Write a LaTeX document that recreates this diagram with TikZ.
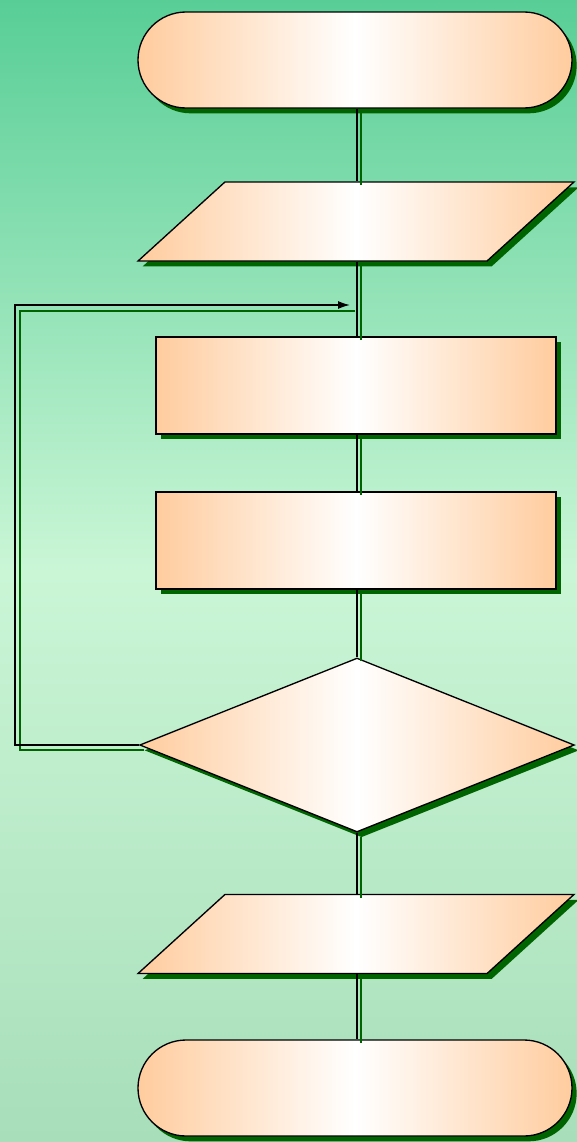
\documentclass[tikz,border=0pt]{standalone}
\usepackage{tikz}
\usetikzlibrary{arrows.meta,positioning,shapes.geometric,shadows,calc}

\definecolor{peach}{RGB}{255,204,158}
\definecolor{shgreen}{RGB}{0,100,0}
\definecolor{bgtop}{RGB}{88,206,150}
\definecolor{bgmid}{RGB}{202,246,214}
\definecolor{bgbot}{RGB}{168,222,186}

\tikzset{
  boxshade/.style={draw=black, line width=1pt, left color=peach, right color=peach, middle color=white,
    drop shadow={shadow xshift=3.5pt, shadow yshift=-4pt, fill=shgreen, opacity=1}},
  terminal/.style={boxshade, rectangle, rounded corners=36pt, minimum width=325.5pt, minimum height=72pt, inner sep=0pt},
  io/.style={boxshade, rectangle, xslant=1.1, minimum width=261.75pt, minimum height=59.25pt, inner sep=0pt},
  process/.style={boxshade, rectangle, minimum width=300pt, minimum height=72.75pt, inner sep=0pt},
  decision/.style={boxshade, diamond, minimum width=326pt, minimum height=130.5pt, inner sep=0pt},
  link/.style={line width=1.1pt, preaction={draw=shgreen, line width=1.8pt, transform canvas={shift={(3pt,-3pt)}}}}
}

\begin{document}
\begin{tikzpicture}[x=0.75pt,y=-0.75pt,>={Latex[length=9pt,width=6pt]}]
  \fill[top color=bgtop, bottom color=bgbot, middle color=bgmid] (0,0) rectangle (577,1142);
  \useasboundingbox (0,0) rectangle (577,1142);

  \node[terminal] (start) at (355,60) {};
  \node[io] (read) at (356,221.5) {};
  \node[process] (calc) at (356,385.5) {};
  \node[process] (sum) at (356,540.5) {};
  \node[decision] (test) at (357,745) {};
  \node[io] (write) at (356,934) {};
  \node[terminal] (stop) at (355,1088) {};

  \coordinate (join) at (350,305);

  \draw[link] (test.north |- start.south) -- (test.north |- read.north);
  \draw[link] (test.north |- read.south) -- (test.north |- calc.north);
  \draw[link] (test.north |- calc.south) -- (test.north |- sum.north);
  \draw[link] (test.north |- sum.south) -- (test.north);
  \draw[link] (test.south) -- (test.south |- write.north);
  \draw[link] (test.south |- write.south) -- (test.south |- stop.north);

  % loop back
  \draw[shgreen, line width=1.8pt] ([shift={(5,5)}]test.west) -- ++(-124,0) |- ([shift={(5,6)}]join);
  \draw[->, line width=1.1pt] (test.west) -- ++(-124,0) |- (join);
\end{tikzpicture}
\end{document}
